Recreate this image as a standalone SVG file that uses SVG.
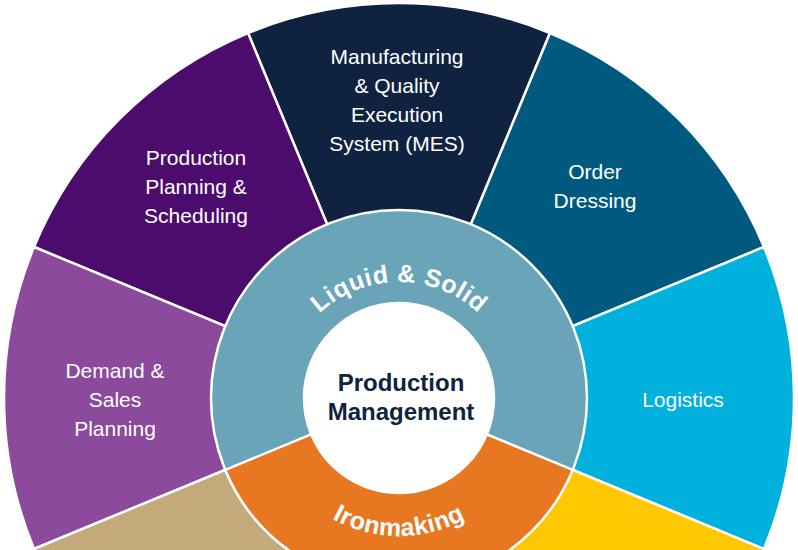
<svg xmlns="http://www.w3.org/2000/svg" width="798" height="550" viewBox="0 0 798 550">
<style>
.w{stroke:#fff;stroke-width:2.5;stroke-linejoin:round}
.l{font-family:"Liberation Sans",Arial,sans-serif;font-size:21px;fill:#fff;text-anchor:middle}
.c{font-family:"Liberation Sans",Arial,sans-serif;font-size:25px;font-weight:bold;fill:#fff;letter-spacing:0.5px}
.m{font-family:"Liberation Sans",Arial,sans-serif;font-size:24px;font-weight:bold;fill:#0f2340;text-anchor:middle}
</style>
<defs>
<path id="top" d="M283 398 A116 116 0 0 1 515 398"/>
<path id="bot" d="M261 398 A138 138 0 0 0 537 398"/>
</defs>
<rect width="798" height="550" fill="#fff"/>
<g id="wedges">
<g id="mes"><path class="w" fill="#0f2340" d="M399 398 L248 33 A395 395 0 0 1 550 33 Z"/><text class="l" x="397" y="64">Manufacturing</text><text class="l" x="397" y="93">&amp; Quality</text><text class="l" x="397" y="122">Execution</text><text class="l" x="397" y="151">System (MES)</text></g>
<g id="pps"><path class="w" fill="#4b0c6e" d="M399 398 L34 247 A395 395 0 0 1 248 33 Z"/><text class="l" x="196" y="165">Production</text><text class="l" x="196" y="194">Planning &amp;</text><text class="l" x="196" y="223">Scheduling</text></g>
<g id="order"><path class="w" fill="#005a80" d="M399 398 L550 33 A395 395 0 0 1 764 247 Z"/><text class="l" x="595" y="179">Order</text><text class="l" x="595" y="208">Dressing</text></g>
<g id="demand"><path class="w" fill="#8b4a9c" d="M399 398 L34 549 A395 395 0 0 1 34 247 Z"/><text class="l" x="115" y="378">Demand &amp;</text><text class="l" x="115" y="407">Sales</text><text class="l" x="115" y="436">Planning</text></g>
<g id="logistics"><path class="w" fill="#00b0dd" d="M399 398 L764 247 A395 395 0 0 1 764 549 Z"/><text class="l" x="683" y="407">Logistics</text></g>
<g id="tan"><path class="w" fill="#c4a97a" d="M399 398 L399 793 A395 395 0 0 1 34 549 Z"/></g>
<g id="yellow"><path class="w" fill="#ffc800" d="M399 398 L764 549 A395 395 0 0 1 399 793 Z"/></g>
</g>
<g id="ring">
<circle class="w" cx="399" cy="398" r="188" fill="#6aa4b8"/>
<path class="w" fill="#e87722" d="M399 398 L225.3 469.9 A188 188 0 0 0 572.7 469.9 Z"/>
<text class="c"><textPath href="#top" startOffset="50%" text-anchor="middle">Liquid &amp; Solid</textPath></text>
<text class="c"><textPath href="#bot" startOffset="50%" text-anchor="middle">Ironmaking</textPath></text>
</g>
<g id="center">
<circle class="w" cx="399" cy="398" r="95" fill="#fff"/>
<text class="m" x="401" y="391">Production</text>
<text class="m" x="401" y="420">Management</text>
</g>
</svg>
